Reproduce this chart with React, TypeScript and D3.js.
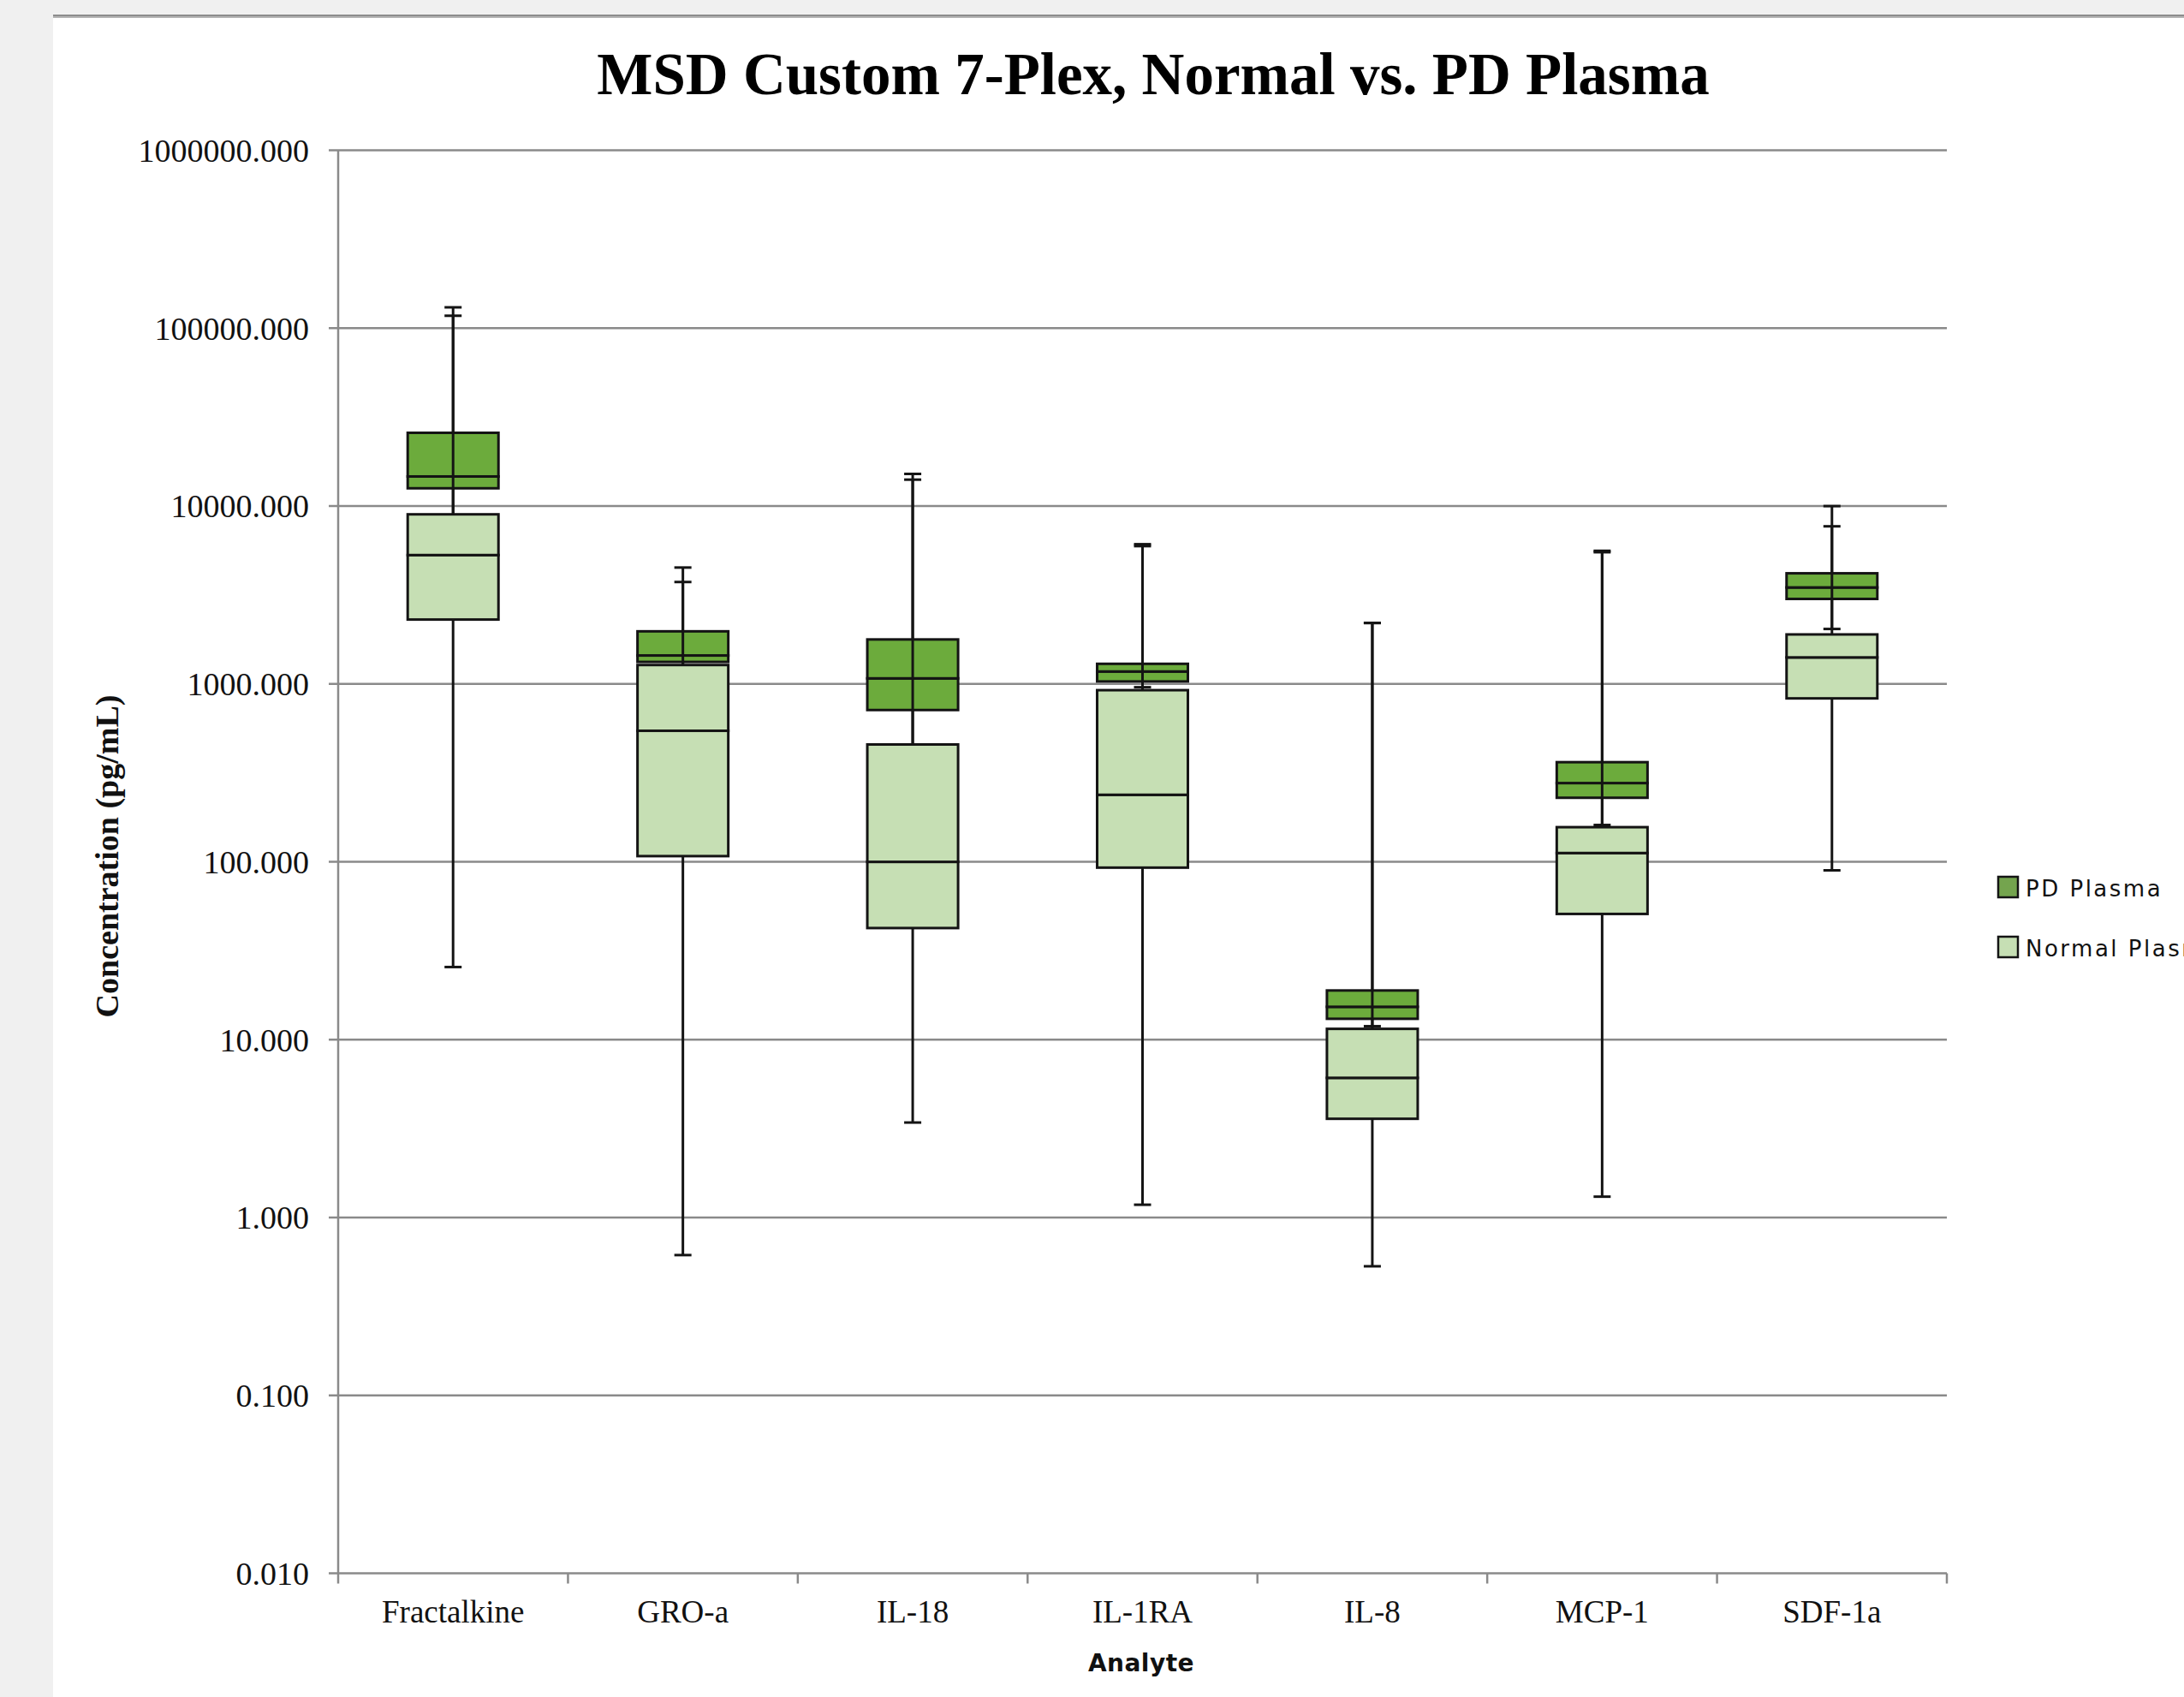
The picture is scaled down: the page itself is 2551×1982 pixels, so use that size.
import React from "react";
import * as d3 from "d3";

const categories = ["Fractalkine", "GRO-a", "IL-18", "IL-1RA", "IL-8", "MCP-1", "SDF-1a"];

// PD Plasma box statistics (pg/mL)
const pdMin = [5000, 1260, 300, 958, 11.9, 161, 2036];
const pdQ1 = [12580, 1329, 713, 1032, 13.1, 229, 3004];
const pdMedian = [14660, 1445, 1074, 1174, 15.3, 277, 3485];
const pdQ3 = [25800, 1975, 1778, 1297, 18.9, 363, 4186];
const pdMax = [130900, 4510, 15150, 6100, 2200, 5600, 9990];

// Normal Plasma box statistics (pg/mL)
const normalMin = [25.6, 0.615, 3.42, 1.18, 0.532, 1.31, 89.5];
const normalQ1 = [2300, 107.6, 42.4, 92.7, 3.59, 50.9, 829];
const normalMedian = [5300, 545, 99.9, 238, 6.1, 112, 1409];
const normalQ3 = [8980, 1277, 456.5, 922, 11.5, 156.5, 1897];
const normalMax = [117400, 3740, 14070, 5950, 2200, 5500, 7690];

const yTicks = [0.01, 0.1, 1, 10, 100, 1000, 10000, 100000, 1000000];
const seriesNames = ["PD Plasma", "Normal Plasma"];

const SERIF = "'Liberation Serif', 'Times New Roman', serif";
const SANS = "'DejaVu Sans', Verdana, sans-serif";

const PD_FILL = "#6cab3c";
const PD_LEGEND = "#74a44e";
const NORMAL_FILL = "#c6dfb4";
const STROKE = "#141414";
const GRID = "#8a8a8a";

export default function App() {
  const W = 2551;
  const H = 1982;
  const x = d3.scaleBand<string>().domain(categories).range([395, 2274]);
  const y = d3.scaleLog().domain([0.01, 1e6]).range([1837.5, 175.5]);
  const bw = x.bandwidth() * 0.395;
  const capW = 20;
  const fmt = d3.format(".3f");
  const [x0, x1] = x.range();
  const yBottom = y(0.01);

  const whisker = (cx: number, from: number, to: number, key: string) => (
    <g key={key}>
      <line x1={cx} x2={cx} y1={y(from)} y2={y(to)} stroke={STROKE} strokeWidth={3} />
      <line x1={cx - capW / 2} x2={cx + capW / 2} y1={y(to)} y2={y(to)} stroke={STROKE} strokeWidth={3} />
    </g>
  );

  return (
    <div style={{ position: "absolute", left: 0, top: 0, width: W, height: H, overflow: "hidden" }}>
      <svg width={W} height={H} viewBox={`0 0 ${W} ${H}`} style={{ display: "block" }}>
        <rect x={0} y={0} width={W} height={H} fill="#f0f0f0" />
        <rect x={62} y={21} width={W - 62} height={H - 21} fill="#ffffff" />
        <rect x={62} y={17} width={W - 62} height={2} fill="#8c8c8c" />
        <rect x={62} y={19} width={W - 62} height={2} fill="#b4b4b4" />

        <text x={1347} y={110} textAnchor="middle" fontFamily={SERIF} fontWeight="bold" fontSize={69} fill="#000">
          MSD Custom 7-Plex, Normal vs. PD Plasma
        </text>

        {/* gridlines and y ticks */}
        {yTicks.map((t) => (
          <g key={`g${t}`}>
            <line x1={384} x2={x1} y1={y(t)} y2={y(t)} stroke={GRID} strokeWidth={2.5} />
            <text x={361} y={y(t)} dy="0.35em" textAnchor="end" fontFamily={SERIF} fontSize={38} fill="#111">
              {fmt(t)}
            </text>
          </g>
        ))}
        <line x1={x0} x2={x0} y1={y(1e6)} y2={yBottom + 12} stroke={GRID} strokeWidth={2.5} />
        {categories.map((c) => (
          <line
            key={`xt${c}`}
            x1={(x(c) as number) + x.bandwidth()}
            x2={(x(c) as number) + x.bandwidth()}
            y1={yBottom}
            y2={yBottom + 12}
            stroke={GRID}
            strokeWidth={2.5}
          />
        ))}

        {/* boxes */}
        {categories.map((c, i) => {
          const cx = (x(c) as number) + x.bandwidth() / 2;
          const bx = cx - bw / 2;
          return (
            <g key={`b${c}`}>
              <rect x={bx} y={y(pdMedian[i])} width={bw} height={y(pdQ1[i]) - y(pdMedian[i])} fill={PD_FILL} stroke={STROKE} strokeWidth={3} />
              <rect x={bx} y={y(pdQ3[i])} width={bw} height={y(pdMedian[i]) - y(pdQ3[i])} fill={PD_FILL} stroke={STROKE} strokeWidth={3} />
              {whisker(cx, pdQ3[i], pdMax[i], "pdu")}
              {whisker(cx, pdQ1[i], pdMin[i], "pdl")}
              <rect x={bx} y={y(normalMedian[i])} width={bw} height={y(normalQ1[i]) - y(normalMedian[i])} fill={NORMAL_FILL} stroke={STROKE} strokeWidth={3} />
              <rect x={bx} y={y(normalQ3[i])} width={bw} height={y(normalMedian[i]) - y(normalQ3[i])} fill={NORMAL_FILL} stroke={STROKE} strokeWidth={3} />
              {whisker(cx, normalQ3[i], normalMax[i], "nu")}
              {whisker(cx, normalQ1[i], normalMin[i], "nl")}
            </g>
          );
        })}

        {/* x labels */}
        {categories.map((c) => (
          <text
            key={`xl${c}`}
            x={(x(c) as number) + x.bandwidth() / 2}
            y={1895}
            textAnchor="middle"
            fontFamily={SERIF}
            fontSize={37}
            fill="#111"
          >
            {c}
          </text>
        ))}

        <text x={1333} y={1952} textAnchor="middle" fontFamily={SANS} fontWeight="bold" fontSize={28} letterSpacing={0.5} fill="#111">
          Analyte
        </text>

        <text
          transform="translate(138,1000) rotate(-90)"
          textAnchor="middle"
          fontFamily={SERIF}
          fontWeight="bold"
          fontSize={38}
          fill="#111"
        >
          Concentration (pg/mL)
        </text>

        {/* legend */}
        {seriesNames.map((s, i) => (
          <g key={`lg${s}`} transform={`translate(2334, ${1024 + i * 70})`}>
            <rect x={0} y={0} width={23} height={24} fill={i === 0 ? PD_LEGEND : NORMAL_FILL} stroke={STROKE} strokeWidth={2.5} />
            <text x={32} y={23} fontFamily={SANS} fontSize={26} letterSpacing={2.5} fill="#111">
              {s}
            </text>
          </g>
        ))}
      </svg>
    </div>
  );
}
